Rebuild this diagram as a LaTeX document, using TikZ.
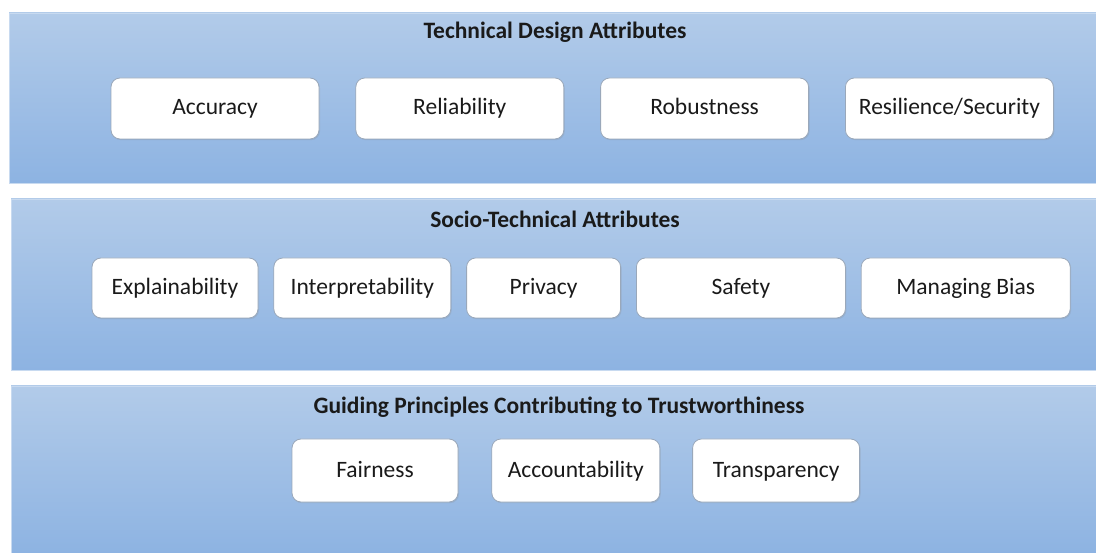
\documentclass[tikz,border=0pt]{standalone}
\usepackage{fontspec}
\setmainfont{Carlito}
\usepackage{tikz}
\usetikzlibrary{positioning,shadows}

\definecolor{bandtop}{HTML}{B2CBE9}
\definecolor{bandbottom}{HTML}{8DB3E2}
\definecolor{bandline}{HTML}{C8DAF0}
\definecolor{boxline}{HTML}{9AA8BA}
\definecolor{ink}{HTML}{1A1A1A}

\begin{document}
\begin{tikzpicture}[
x=1pt, y=-1pt,
band/.style={draw=bandline, line width=0.8pt, top color=bandtop, bottom color=bandbottom},
attr/.style={draw=boxline, line width=0.8pt, fill=white, rounded corners=9pt, minimum height=61pt, inner sep=0pt, text height=16pt, text depth=3pt, text=ink, font=\fontsize{23.5}{28}\selectfont, drop shadow={opacity=0.18, shadow xshift=1pt, shadow yshift=-1.2pt}},
title/.style={text=ink, inner sep=0pt, font=\fontsize{23.5}{28}\selectfont\bfseries}
]

\useasboundingbox (0,0) rectangle (1096,553);

\path[band] (9,13) rectangle (1097,183);
\path[band] (11,199) rectangle (1097,370);
\path[band] (11,386) rectangle (1097,554);

\node (techtitle) [title] at (555,32) {Technical Design Attributes};

\node (acc) [attr, minimum width=208pt] at (215,108.5) {Accuracy};
\node (rel) [attr, minimum width=208pt, right=36pt of acc] {Reliability};
\node (rob) [attr, minimum width=208pt, right=36pt of rel] {Robustness};
\node (res) [attr, minimum width=208pt, right=36pt of rob] {Resilience/Security};

\node (sociotitle) [title] at (555,219) {Socio-Technical Attributes};

\node (expl) [attr, minimum width=166pt, minimum height=60pt] at (175,288) {Explainability};
\node (interp) [attr, minimum width=177pt, minimum height=60pt, right=15pt of expl] {Interpretability};
\node (priv) [attr, minimum width=154pt, minimum height=60pt, right=15pt of interp] {Privacy};
\node (safe) [attr, minimum width=209pt, minimum height=60pt, right=15pt of priv] {Safety};
\node (bias) [attr, minimum width=209pt, minimum height=60pt, right=15pt of safe] {Managing Bias};

\node (guidetitle) [title] at (559,407) {Guiding Principles Contributing to Trustworthiness};

\node (fair) [attr, minimum width=166pt, minimum height=63pt] at (375,470.5) {Fairness};
\node (acct) [attr, minimum width=168pt, minimum height=63pt, right=33pt of fair] {Accountability};
\node (transp) [attr, minimum width=167pt, minimum height=63pt, right=32pt of acct] {Transparency};

\end{tikzpicture}
\end{document}
